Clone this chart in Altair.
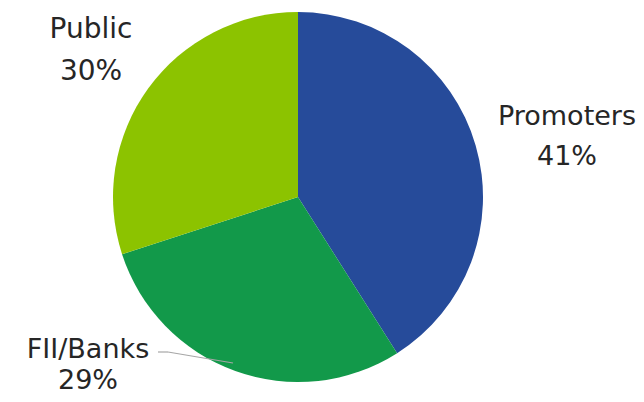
import altair as alt
import pandas as pd

categories = ["Promoters", "FII/Banks", "Public"]
shares = [41, 29, 30]
colors = ["#264B9A", "#12994A", "#8CC300"]

df = pd.DataFrame({
    "category": categories,
    "share": shares,
    "order": list(range(len(categories))),
})
df["label"] = df["category"] + "\n" + df["share"].astype(str) + "%"

CX, CY, R = 290, 189, 185

pie = alt.Chart(df).mark_arc(outerRadius=R).encode(
    theta=alt.Theta("share:Q", stack=True),
    order=alt.Order("order:Q"),
    color=alt.Color("category:N", scale=alt.Scale(domain=categories, range=colors), legend=None),
    x=alt.value(CX),
    y=alt.value(CY),
)

label_pos = {
    "Promoters": (559, 117, 27, 40),
    "Public": (83, 30, 28, 42),
    "FII/Banks": (80, 350, 27, 31),
}
layers = [pie]
for cat, (lx, ly, fs, lh) in label_pos.items():
    layers.append(
        alt.Chart(df).transform_filter(alt.datum.category == cat).mark_text(
            font="DejaVu Sans", fontSize=fs, color="#262626", align="center",
            baseline="alphabetic", lineBreak="\n", lineHeight=lh,
        ).encode(text="label:N", x=alt.value(lx), y=alt.value(ly))
    )

leader = pd.DataFrame({"x": [150, 160], "y": [344, 344], "x2": [160, 225], "y2": [344, 355]})
layers.append(
    alt.Chart(leader).mark_rule(color="#A6A6A6", strokeWidth=1.2).encode(
        x=alt.X("x:Q", scale=None), y=alt.Y("y:Q", scale=None),
        x2="x2:Q", y2="y2:Q",
    )
)

chart = alt.layer(*layers).properties(
    width=628, height=394, padding=0, autosize=alt.AutoSizeParams(type="none"),
).configure_view(stroke=None)

chart.save("out.html", embed_options={"renderer": "svg", "actions": False})
